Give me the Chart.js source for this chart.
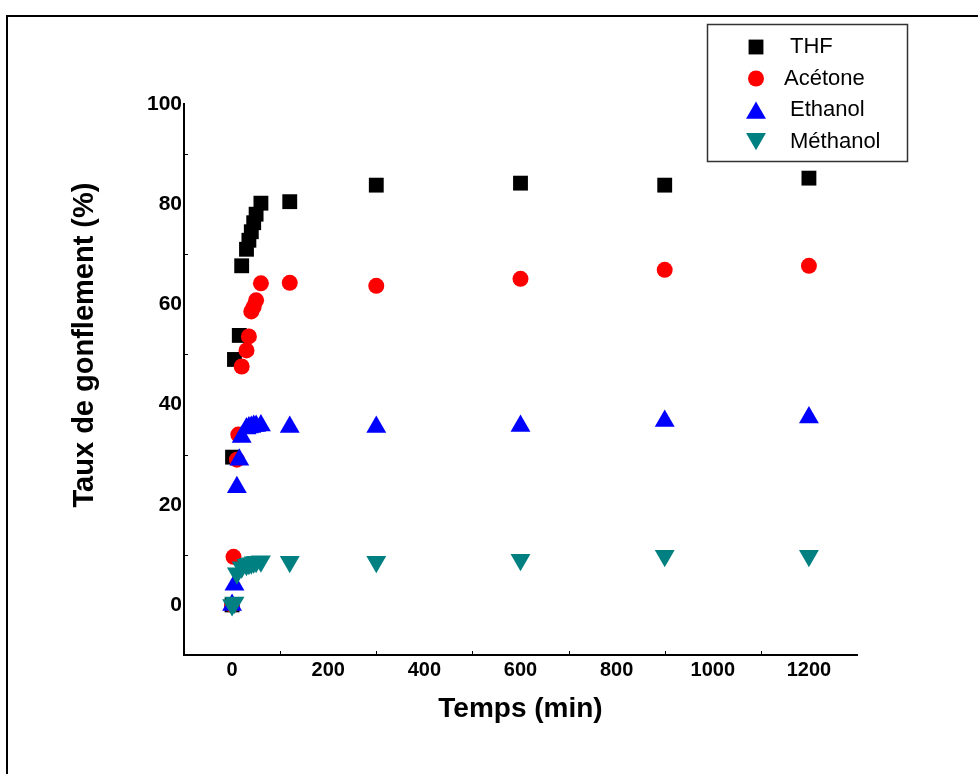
<!DOCTYPE html>
<html><head><meta charset="utf-8">
<script src="https://cdn.jsdelivr.net/npm/chart.js@4/dist/chart.umd.min.js"></script>
<style>html,body{margin:0;padding:0;background:#fff}#wrap{width:978px;height:774px;position:relative}</style>
</head><body><div id="wrap"><canvas id="c" width="978" height="774"></canvas></div>
<script>
const seriesNames = ['THF', 'Acétone', 'Ethanol', 'Méthanol'];

const thfTime  = [0, 1, 5, 15, 20, 30, 35, 40, 45, 50, 60, 120, 300, 600, 900, 1200];
const thfValue = [0, 29.5, 49, 53.8, 67.7, 71, 72.8, 74.5, 76.3, 78, 80.2, 80.5, 83.8, 84.2, 83.8, 85.2];

const acetoneTime  = [0, 3, 10, 13, 20, 30, 35, 40, 45, 50, 60, 120, 300, 600, 900, 1200];
const acetoneValue = [0, 9.6, 29, 34, 47.6, 50.8, 53.6, 58.6, 59.5, 60.8, 64.2, 64.3, 63.7, 65.1, 66.9, 67.7];

const ethanolTime  = [0, 5, 10, 15, 20, 30, 35, 40, 45, 50, 60, 120, 300, 600, 900, 1200];
const ethanolValue = [0, 4, 23.5, 29, 33.5, 35.2, 35.4, 35.5, 35.7, 35.7, 35.8, 35.5, 35.5, 35.7, 36.7, 37.4];

const methanolTime  = [0, 5, 10, 20, 30, 35, 40, 45, 50, 60, 120, 300, 600, 900, 1200];
const methanolValue = [0, 0.5, 6.3, 7.5, 8, 8.2, 8.3, 8.5, 8.6, 8.7, 8.6, 8.6, 9, 9.8, 9.8];

const xTickValues = [0, 200, 400, 600, 800, 1000, 1200];
const yTickValues = [0, 20, 40, 60, 80, 100];
const xMinorTicks = [100, 300, 500, 700, 900, 1100];
const yMinorTicks = [10, 30, 50, 70, 90];

const xTitle = 'Temps (min)';
const yTitle = 'Taux de gonflement (%)';

function pts(xs, ys) { return xs.map((x, i) => ({x: x, y: ys[i]})); }

const decor = {
  id: 'decor',
  beforeDraw(chart) {
    const ctx = chart.ctx;
    ctx.save();
    ctx.fillStyle = '#fff';
    ctx.fillRect(0, 0, chart.width, chart.height);
    ctx.strokeStyle = '#000';
    ctx.lineWidth = 2;
    ctx.beginPath();
    ctx.moveTo(7, chart.height);
    ctx.lineTo(7, 16);
    ctx.lineTo(chart.width, 16);
    ctx.stroke();
    ctx.restore();
  },
  afterDraw(chart) {
    const ctx = chart.ctx;
    const xs = chart.scales.x, ys = chart.scales.y;
    const area = chart.chartArea;
    ctx.save();
    // inward minor ticks
    ctx.strokeStyle = '#000';
    ctx.lineWidth = 1;
    ctx.beginPath();
    xMinorTicks.forEach(v => {
      const px = Math.round(xs.getPixelForValue(v)) + 0.5;
      ctx.moveTo(px, area.bottom); ctx.lineTo(px, area.bottom - 4);
    });
    yMinorTicks.forEach(v => {
      const py = Math.round(ys.getPixelForValue(v)) + 0.5;
      ctx.moveTo(area.left, py); ctx.lineTo(area.left + 4, py);
    });
    ctx.stroke();
    // y title
    ctx.fillStyle = '#000';
    ctx.font = 'bold 29px "Liberation Sans", Arial, sans-serif';
    ctx.textAlign = 'center';
    ctx.textBaseline = 'middle';
    ctx.translate(85, 345);
    ctx.rotate(-Math.PI / 2);
    ctx.fillText(yTitle, 0, 0);
    ctx.restore();

    // legend
    ctx.save();
    const bx = 707, by = 24, bw = 200, bh = 137;
    ctx.fillStyle = '#fff';
    ctx.fillRect(bx, by, bw, bh);
    ctx.strokeStyle = '#333';
    ctx.lineWidth = 1.5;
    ctx.strokeRect(bx + 0.5, by + 0.5, bw, bh);
    ctx.font = '22px "Liberation Sans", Arial, sans-serif';
    ctx.textAlign = 'left';
    ctx.textBaseline = 'middle';
    chart.data.datasets.forEach((ds, i) => {
      const cy = by + 23 + i * 31.5;
      const cx = 756;
      ctx.fillStyle = ds.backgroundColor;
      const r = ds.pointRadius;
      ctx.beginPath();
      if (ds.pointStyle === 'rect') {
        const s = r / Math.SQRT2;
        ctx.rect(cx - s, cy - s, 2 * s, 2 * s);
      } else if (ds.pointStyle === 'circle') {
        ctx.arc(cx, cy, r, 0, Math.PI * 2);
      } else {
        let rad = (ds.rotation || 0) * Math.PI / 180;
        const oy = cy + (ds.rotation ? -r / 4 : r / 4);
        for (let k = 0; k < 3; k++) {
          const X = cx + Math.sin(rad) * r, Y = oy - Math.cos(rad) * r;
          if (k === 0) ctx.moveTo(X, Y); else ctx.lineTo(X, Y);
          rad += 2 * Math.PI / 3;
        }
        ctx.closePath();
      }
      ctx.fill();
      ctx.fillStyle = '#000';
      ctx.fillText(ds.label, i === 1 ? 784 : 790, cy);
    });
    ctx.restore();
  }
};

const axisFont = '"Liberation Sans", Arial, sans-serif';

new Chart(document.getElementById('c'), {
  type: 'scatter',
  data: {
    datasets: [
      {label: seriesNames[0], data: pts(thfTime, thfValue), pointStyle: 'rect', pointRadius: 10.5,
       backgroundColor: '#000000', borderColor: '#000000', borderWidth: 0, order: 4},
      {label: seriesNames[1], data: pts(acetoneTime, acetoneValue), pointStyle: 'circle', pointRadius: 8,
       backgroundColor: '#ff0000', borderColor: '#ff0000', borderWidth: 0, order: 3},
      {label: seriesNames[2], data: pts(ethanolTime, ethanolValue), pointStyle: 'triangle', pointRadius: 11.5,
       backgroundColor: '#0000ff', borderColor: '#0000ff', borderWidth: 0, order: 2},
      {label: seriesNames[3], data: pts(methanolTime, methanolValue), pointStyle: 'triangle', pointRadius: 11.5, rotation: 180,
       backgroundColor: '#008080', borderColor: '#008080', borderWidth: 0, order: 1}
    ]
  },
  options: {
    responsive: false,
    animation: false,
    devicePixelRatio: 1,
    layout: {padding: {left: 0, top: 104, right: 121, bottom: 0}},
    plugins: {legend: {display: false}, tooltip: {enabled: false}},
    elements: {point: {hoverRadius: 0}},
    scales: {
      x: {
        type: 'linear', min: -100, max: 1300,
        afterBuildTicks: s => { s.ticks = xTickValues.map(v => ({value: v})); },
        afterFit: s => { s.height = 119; },
        grid: {display: false, drawTicks: false},
        border: {display: true, color: '#000', width: 2},
        ticks: {color: '#000', padding: 3, maxRotation: 0, autoSkip: false,
                callback: v => String(v),
                font: {family: axisFont, size: 20, weight: 'bold'}},
        title: {display: true, text: xTitle, color: '#000', padding: {top: 0, bottom: 48},
                font: {family: axisFont, size: 28, weight: 'bold'}}
      },
      y: {
        type: 'linear', min: -10, max: 100,
        afterBuildTicks: s => { s.ticks = yTickValues.map(v => ({value: v})); },
        afterFit: s => { s.width = 184; },
        grid: {display: false, drawTicks: false},
        border: {display: true, color: '#000', width: 2},
        ticks: {color: '#000', padding: 2, callback: v => String(v),
                font: {family: axisFont, size: 21, weight: 'bold'}},
        title: {display: false, text: yTitle}
      }
    }
  },
  plugins: [decor]
});
</script>
</body></html>
